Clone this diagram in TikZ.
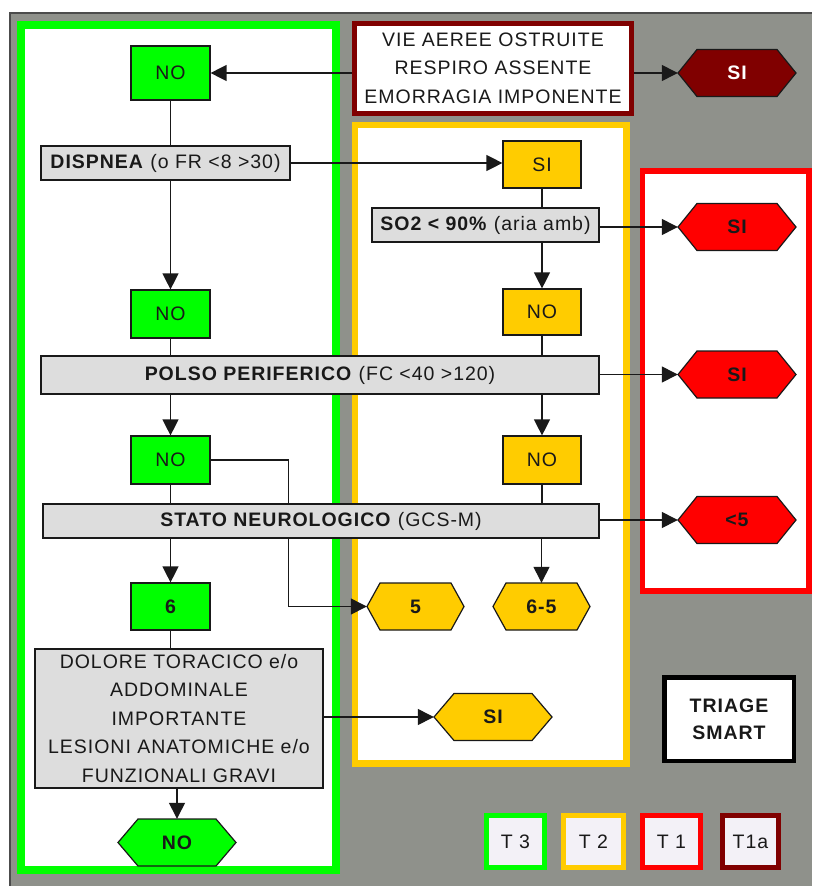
\documentclass[tikz,border=0pt]{standalone}
\usepackage{fontspec}
\setmainfont{Liberation Sans}[LetterSpace=5]
\usetikzlibrary{arrows.meta,calc}
\pgfdeclarelayer{back}
\pgfdeclarelayer{mid}
\pgfsetlayers{back,mid,main}
\definecolor{bggray}{RGB}{143,145,139}
\definecolor{tgreen}{RGB}{0,255,0}
\definecolor{tyellow}{RGB}{255,204,0}
\definecolor{tred}{RGB}{255,0,0}
\definecolor{tdark}{RGB}{128,0,0}
\definecolor{boxgray}{RGB}{221,221,221}
\definecolor{lav}{RGB}{243,241,247}
\definecolor{ink}{RGB}{25,25,25}
\tikzset{
  txt/.style={font=\fontsize{19.5}{28.5}\selectfont, text=ink},
  nbox/.style={txt, draw=ink, line width=1.2pt, inner sep=0pt},
  gbox/.style={nbox, fill=tgreen, minimum width=79pt},
  ybox/.style={nbox, fill=tyellow, minimum width=78pt},
  qbox/.style={nbox, fill=boxgray},
  hexlbl/.style={txt, font=\fontsize{19.5}{28.5}\selectfont\bfseries, inner sep=0pt, minimum height=47pt},
  hexline/.style={draw=ink, line width=1.2pt, line join=miter},
  frame/.style={line width=#1, fill=white},
  legend/.style={txt, line width=5pt, fill=lav, minimum width=58pt, minimum height=52pt, inner sep=0pt},
  arr/.style={-{Triangle[length=16pt,width=16pt]}, line width=1.3pt, draw=ink},
  ln/.style={line width=1.3pt, draw=ink},
}
% name, center, width, inset, fill colour, text colour, text
\newcommand\HexNode[7]{%
  \filldraw[hexline, fill=#5] ($(#2)+(-#3/2,0)$) -- ($(#2)+(-#3/2+#4,-23.5)$) -- ($(#2)+(#3/2-#4,-23.5)$) -- ($(#2)+(#3/2,0)$) -- ($(#2)+(#3/2-#4,23.5)$) -- ($(#2)+(-#3/2+#4,23.5)$) -- cycle;
  \node[hexlbl, text=#6, minimum width=#3] (#1) at (#2) {#7};}
\begin{document}
\begin{tikzpicture}[x=1pt, y=-1pt]
\useasboundingbox (0,0) rectangle (812,886);
\begin{pgfonlayer}{back}
  \fill[white] (0,0) rectangle (812,886);
  \fill[bggray] (10,13) rectangle (812,886);
  \draw[line width=1.5pt, draw=black!70] (10,886) -- (10,13) -- (812,13);
  % column frames
  \draw[frame=7.5pt, draw=tgreen] (21.2,25) rectangle (336,870);
  \draw[frame=6.5pt, draw=tyellow] (355,125) rectangle (626.5,763.5);
  \draw[frame=5.5pt, draw=tred] (642.3,171) rectangle (809,591);
\end{pgfonlayer}

% top
\node[txt, align=center, draw=tdark, line width=5pt, fill=white, minimum width=277.6pt, minimum height=90pt, inner sep=0pt] (vie) at (493,68)
  {VIE AEREE OSTRUITE\\RESPIRO ASSENTE\\EMORRAGIA IMPONENTE};
\node[gbox, minimum height=54pt] (noA) at (170.5,73) {NO};
\HexNode{hA}{737,73}{118}{19}{tdark}{white}{SI}

% dispnea row
\node[qbox, minimum width=249pt, minimum height=34pt] (disp) at (165.5,163) {\textbf{DISPNEA} (o FR <8 >30)};
\node[ybox, minimum height=47pt] (siY) at (542,164.5) {SI};
\node[qbox, minimum width=227pt, minimum height=34pt] (so2) at (485.5,225) {\textbf{SO2 < 90\%} (aria amb)};
\HexNode{hR1}{737,227}{118}{19}{tred}{ink}{SI}

% polso row
\node[gbox, minimum height=48pt] (noB) at (170.5,314) {NO};
\node[ybox, minimum height=46pt] (noY1) at (542,312) {NO};
\node[qbox, minimum width=558pt, minimum height=38pt] (polso) at (320,375) {\textbf{POLSO PERIFERICO} (FC <40 >120)};
\HexNode{hR2}{737,374.5}{118}{19}{tred}{ink}{SI}

% stato row
\node[gbox, minimum height=48pt] (noC) at (170.5,460) {NO};
\node[ybox, minimum height=48pt] (noY2) at (542,460) {NO};
\node[qbox, minimum width=556pt, minimum height=34pt] (stato) at (321,521) {\textbf{STATO NEUROLOGICO} (GCS-M)};
\HexNode{hR3}{737,520}{118}{19}{tred}{ink}{<5}

% results
\node[gbox, minimum height=47pt, font=\fontsize{19.5}{28.5}\selectfont\bfseries] (six) at (170.5,606.5) {6};
\HexNode{h5}{415.5,606.5}{97}{13}{tyellow}{ink}{5}
\HexNode{h65}{541.5,606.5}{97}{13}{tyellow}{ink}{6-5}

% dolore
\node[qbox, align=center, minimum width=288pt, minimum height=139pt] (dol) at (179,718.5)
  {DOLORE TORACICO e/o\\ADDOMINALE\\IMPORTANTE\\LESIONI ANATOMICHE e/o\\FUNZIONALI GRAVI};
\HexNode{hSI}{493,717}{118}{20}{tyellow}{ink}{SI}
\HexNode{hNO}{177,842.5}{118}{20}{tgreen}{ink}{NO}

% title and legend
\node[txt, font=\fontsize{19.5}{27}\selectfont\bfseries, align=center, draw=black, line width=4.5pt, fill=white, minimum width=129.5pt, minimum height=83.5pt, inner sep=0pt] (title) at (729,719) {TRIAGE\\SMART};
\node[legend, draw=tgreen] (lg3) at (515.5,841.5) {T 3};
\node[legend, draw=tyellow, minimum width=60pt] (lg2) at (593.5,841.5) {T 2};
\node[legend, draw=tred] (lg1) at (671.5,841.5) {T 1};
\node[legend, draw=tdark, minimum width=56pt] (lg1a) at (750.5,841.5) {T1a};

% connectors
\begin{pgfonlayer}{mid}
  \draw[arr] (vie.west |- noA.east) -- (noA.east);
  \draw[arr] (vie.east |- hA.west) -- (hA.west);
  \draw[ln] (noA.south) -- (noA.south |- disp.north);
  \draw[arr] (noB.north |- disp.south) -- (noB.north);
  \draw[arr] (disp.east) -- (siY.west |- disp.east);
  \draw[ln] (siY.south) -- (siY.south |- so2.north);
  \draw[arr] (noY1.north |- so2.south) -- (noY1.north);
  \draw[arr] (so2.east |- hR1.west) -- (hR1.west);
  \draw[ln] (noB.south) -- (noB.south |- polso.north);
  \draw[ln] (noY1.south) -- (noY1.south |- polso.north);
  \draw[arr] (noC.north |- polso.south) -- (noC.north);
  \draw[arr] (noY2.north |- polso.south) -- (noY2.north);
  \draw[arr] (polso.east |- hR2.west) -- (hR2.west);
  \draw[ln] (noC.south) -- (noC.south |- stato.north);
  \draw[ln] (noY2.south) -- (noY2.south |- stato.north);
  \draw[arr] (noC.east) -- ++(78,0) |- (h5.west);
  \draw[arr] (six.north |- stato.south) -- (six.north);
  \draw[arr] (h65.north |- stato.south) -- (h65.north);
  \draw[arr] (stato.east |- hR3.west) -- (hR3.west);
  \draw[ln] (six.south) -- (six.south |- dol.north);
  \draw[arr] (dol.east |- hSI.west) -- (hSI.west);
  \draw[arr] (hNO.north |- dol.south) -- (hNO.north);
\end{pgfonlayer}
\end{tikzpicture}
\end{document}
